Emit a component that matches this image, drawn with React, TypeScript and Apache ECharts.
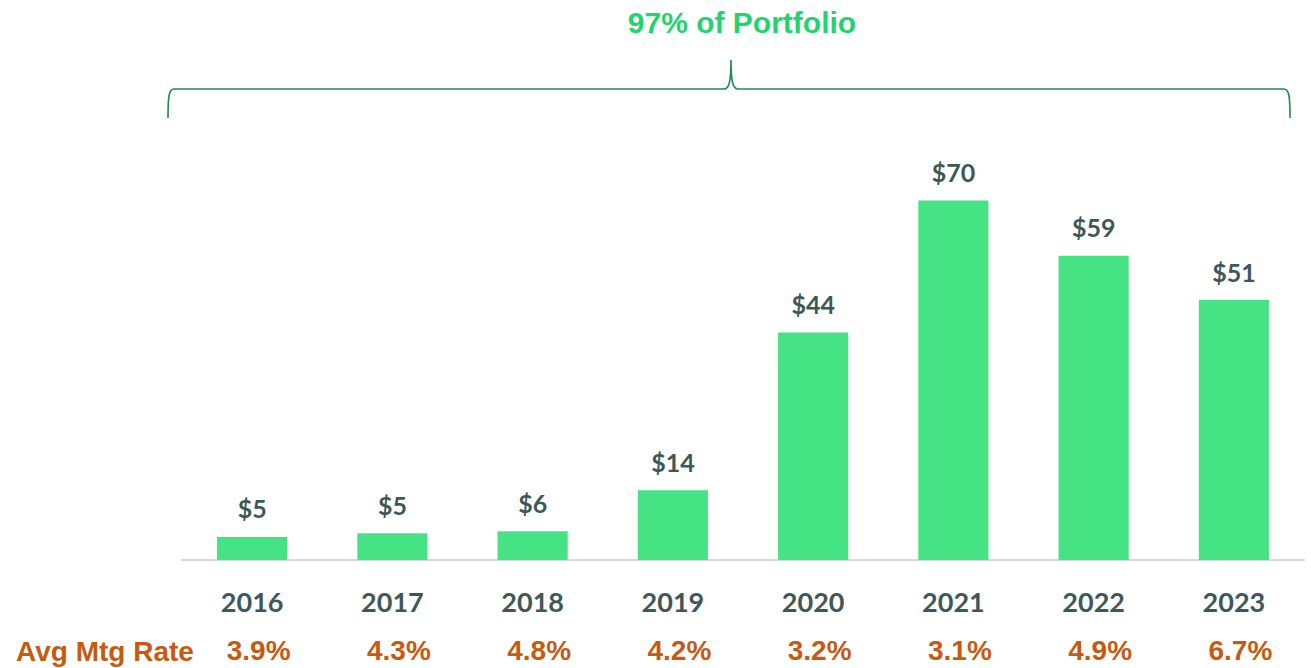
import React, { useEffect, useRef } from "react";
import * as echarts from "echarts";

const years = ["2016", "2017", "2018", "2019", "2020", "2021", "2022", "2023"];
const volumes = [4.5, 5.2, 5.6, 13.6, 44.3, 70, 59.2, 50.6];
const valueLabels = ["$5", "$5", "$6", "$14", "$44", "$70", "$59", "$51"];
const rates = ["3.9%", "4.3%", "4.8%", "4.2%", "3.2%", "3.1%", "4.9%", "6.7%"];
const title = "97% of Portfolio";
const rowTitle = "Avg Mtg Rate";

const bracePath =
  "M168,118 C168,96 169,89 174,89 L724,89 C729,89 731,82 731,60 C731,82 733,89 738,89 L1284,89 C1289,89 1290,96 1290,118";

let registered = false;

export default function App() {
  const ref = useRef<HTMLDivElement>(null);
  useEffect(() => {
    if (!ref.current) return;
    if (!registered) {
      echarts.graphic.registerShape("brace", echarts.graphic.extendPath(bracePath, {}) as any);
      registered = true;
    }
    const chart = echarts.init(ref.current, null, { renderer: "svg" });
    chart.setOption({
      animation: false,
      backgroundColor: "#ffffff",
      grid: { left: 182, right: 7, top: 149, bottom: 108 },
      xAxis: [
        {
          type: "category",
          data: years,
          axisLine: { show: true, lineStyle: { color: "#d9d9d9", width: 2 } },
          axisTick: { show: false },
          axisLabel: {
            margin: 28,
            color: "#3e5757",
            fontFamily: "Lato",
            fontWeight: "bold",
            fontSize: 27,
          },
        },
        {
          type: "category",
          position: "bottom",
          data: rates,
          axisLine: { show: false },
          axisTick: { show: false },
          axisLabel: {
            margin: 76,
            padding: [0, 0, 0, 13],
            color: "#c55a11",
            fontFamily: "Liberation Sans",
            fontWeight: "bold",
            fontSize: 28,
          },
        },
      ],
      yAxis: { type: "value", min: 0, max: 80, show: false, splitLine: { show: false } },
      series: [
        {
          type: "bar",
          xAxisIndex: 0,
          data: volumes,
          barWidth: "50%",
          itemStyle: { color: "#46e384" },
          label: {
            show: true,
            position: "top",
            distance: 16,
            formatter: (p: any) => valueLabels[p.dataIndex],
            color: "#3e5757",
            fontFamily: "Lato",
            fontWeight: "bold",
            fontSize: 25,
          },
        },
      ],
      graphic: [
        {
          type: "text",
          style: {
            text: title,
            x: 742,
            y: 22,
            align: "center",
            verticalAlign: "middle",
            fill: "#22d36f",
            font: "bold 30px 'Liberation Sans'",
          },
        },
        {
          type: "brace",
          x: 0,
          y: 0,
          style: { fill: "none", stroke: "#1e8c4e", lineWidth: 1.6 },
        },
        {
          type: "text",
          style: {
            text: rowTitle,
            x: 16,
            y: 651,
            align: "left",
            verticalAlign: "middle",
            fill: "#c55a11",
            font: "bold 28px 'Liberation Sans'",
          },
        },
      ],
    });
    return () => chart.dispose();
  }, []);
  return <div ref={ref} style={{ width: 1311, height: 668, position: "absolute", left: 0, top: 0 }} />;
}
